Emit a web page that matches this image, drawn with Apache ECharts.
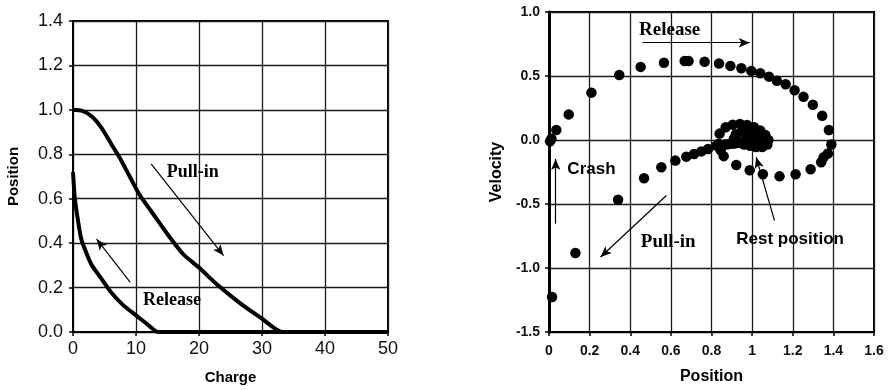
<!DOCTYPE html>
<html>
<head>
<meta charset="utf-8">
<script src="https://cdn.jsdelivr.net/npm/echarts@6/dist/echarts.min.js"></script>
<style>
html,body{margin:0;padding:0;background:#fff;}
#chart{width:892px;height:390px;}
</style>
</head>
<body>
<div id="chart"></div>
<script>
// ---------- Left panel: Position vs Charge ----------
var pullInCharge = [0, 1.5, 3, 4.5, 6, 7.5, 9, 10.5, 12, 13.5, 15, 17.5, 20, 23, 26.5, 30, 33.2, 50];
var pullInPos    = [1.0, 0.995, 0.97, 0.92, 0.85, 0.78, 0.70, 0.62, 0.56, 0.50, 0.44, 0.35, 0.29, 0.21, 0.13, 0.06, 0.0, 0.0];
var releaseCharge = [0, 0.3, 0.8, 1.3, 2.2, 3, 4.5, 6, 8, 10, 12, 13.5, 50];
var releasePos    = [0.72, 0.6, 0.5, 0.42, 0.35, 0.3, 0.24, 0.18, 0.12, 0.075, 0.03, 0.0, 0.0];
var leftXTicks = [0, 10, 20, 30, 40, 50];
var leftYTicks = [0.0, 0.2, 0.4, 0.6, 0.8, 1.0, 1.2, 1.4];
var leftLabels = [
  {name: 'Pull-in', x: 19.0, y: 0.717},
  {name: 'Release', x: 15.7, y: 0.142}
];
var leftArrows = [
  [[12.4, 0.757], [23.9, 0.344]],
  [[9.06, 0.224], [3.76, 0.418]]
];

// ---------- Right panel: Velocity vs Position ----------
var pullInTrajX = [1.0, 0.985, 0.97, 0.955, 0.94, 0.925, 0.91, 0.895, 0.88, 0.865, 0.85, 0.837, 0.824, 0.783, 0.75, 0.714, 0.676, 0.622, 0.553, 0.468, 0.34, 0.13, 0.015];
var pullInTrajV = [0.0, -0.005, -0.01, -0.015, -0.02, -0.024, -0.027, -0.03, -0.033, -0.036, -0.039, -0.041, -0.044, -0.07, -0.089, -0.109, -0.13, -0.161, -0.213, -0.299, -0.467, -0.883, -1.226];
var releaseTrajX = [0.005, 0.012, 0.036, 0.097, 0.209, 0.346, 0.451, 0.566, 0.668, 0.687, 0.766, 0.837, 0.893, 0.947, 0.996, 1.04, 1.083, 1.122, 1.165, 1.209, 1.253, 1.299, 1.345, 1.378, 1.39, 1.373, 1.352, 1.34, 1.288, 1.214, 1.135, 1.053, 0.988, 0.922, 0.86, 0.845, 0.835, 0.84, 0.87, 0.905, 0.94, 0.975, 1.01, 1.04, 1.065, 1.08, 1.075, 1.05, 1.02, 0.99, 0.96, 0.93, 0.91, 0.92, 0.95, 0.985, 1.02, 1.04, 1.04, 1.02, 0.99, 0.97, 0.975, 1.0, 1.015, 1.01, 1.0];
var releaseTrajV = [-0.01, 0.01, 0.078, 0.2, 0.37, 0.508, 0.571, 0.604, 0.617, 0.617, 0.612, 0.597, 0.579, 0.561, 0.54, 0.522, 0.495, 0.462, 0.436, 0.389, 0.337, 0.275, 0.189, 0.078, -0.035, -0.105, -0.135, -0.174, -0.228, -0.268, -0.284, -0.268, -0.237, -0.195, -0.126, -0.08, -0.03, 0.05, 0.1, 0.12, 0.125, 0.118, 0.1, 0.075, 0.04, 0.0, -0.035, -0.055, -0.055, -0.045, -0.035, -0.02, 0.01, 0.045, 0.065, 0.07, 0.055, 0.025, -0.005, -0.025, -0.025, -0.005, 0.02, 0.03, 0.015, -0.005, 0.0];
var rightXTicks = [0, 0.2, 0.4, 0.6, 0.8, 1, 1.2, 1.4, 1.6];
var rightYTicks = [-1.5, -1.0, -0.5, 0.0, 0.5, 1.0];
var rightSerifLabels = [
  {name: 'Release', x: 0.594, y: 0.857},
  {name: 'Pull-in', x: 0.587, y: -0.797}
];
var rightSansLabels = [
  {name: 'Crash', x: 0.209, y: -0.226},
  {name: 'Rest position', x: 1.187, y: -0.779}
];
var rightArrows = [
  [[0.46, 0.76], [0.988, 0.76]],
  [[0.578, -0.434], [0.254, -0.914]],
  [[1.11, -0.63], [1.02, -0.135]],
  [[0.033, -0.654], [0.033, -0.148]]
];

function zip(a, b) { return a.map(function (v, i) { return [v, b[i]]; }); }
function labelData(arr) { return arr.map(function (d) { return {name: d.name, value: [d.x, d.y]}; }); }
function arrowData(arr) { return arr.map(function (a) { return [{coord: a[0]}, {coord: a[1]}]; }); }

var SANS = "'Liberation Sans', Arial, Helvetica, sans-serif";
var SERIF = "'Liberation Serif', 'Times New Roman', serif";
var BLACK = '#000';

function axisCommon(min, max, interval, fmt, labelStyle) {
  return {
    type: 'value', min: min, max: max, interval: interval,
    axisLine: {show: true, onZero: false, lineStyle: {color: BLACK, width: 2}},
    axisTick: {show: true, inside: false, length: 4, lineStyle: {color: BLACK, width: 1.5}},
    splitLine: {show: true, lineStyle: {color: '#1a1a1a', width: 1.3}},
    axisLabel: Object.assign({color: '#111', fontFamily: SANS, formatter: fmt}, labelStyle)
  };
}

var chart = echarts.init(document.getElementById('chart'), null, {renderer: 'canvas'});

var xL = axisCommon(leftXTicks[0], leftXTicks[leftXTicks.length - 1], 10, function (v) { return String(v); }, {fontSize: 18, margin: 8});
xL.gridIndex = 0; xL.name = 'Charge'; xL.nameLocation = 'middle'; xL.nameGap = 38;
xL.nameTextStyle = {fontFamily: SANS, fontWeight: 'bold', fontSize: 15, color: BLACK};
var yL = axisCommon(leftYTicks[0], leftYTicks[leftYTicks.length - 1], 0.2, function (v) { return v.toFixed(1); }, {fontSize: 18, margin: 10});
yL.gridIndex = 0; yL.name = 'Position'; yL.nameLocation = 'middle'; yL.nameGap = 52;
yL.nameTextStyle = {fontFamily: SANS, fontWeight: 'bold', fontSize: 15, color: BLACK};

var xR = axisCommon(rightXTicks[0], rightXTicks[rightXTicks.length - 1], 0.2, function (v) { return String(+v.toFixed(1)); }, {fontSize: 14, fontWeight: 'bold', margin: 12});
xR.gridIndex = 1; xR.name = 'Position'; xR.nameLocation = 'middle'; xR.nameGap = 37;
xR.nameTextStyle = {fontFamily: SANS, fontWeight: 'bold', fontSize: 16, color: BLACK};
var yR = axisCommon(rightYTicks[0], rightYTicks[rightYTicks.length - 1], 0.5, function (v) { return v.toFixed(1); }, {fontSize: 14, fontWeight: 'bold', margin: 9});
yR.gridIndex = 1; yR.name = 'Velocity'; yR.nameLocation = 'middle'; yR.nameGap = 44;
yR.axisLine.lineStyle.width = 3;
yR.nameTextStyle = {fontFamily: SANS, fontWeight: 'bold', fontSize: 16, color: BLACK};

var arrowLine = {symbol: ['none', 'arrow'], symbolSize: [7, 11], silent: true, animation: false,
  label: {show: false}, lineStyle: {color: BLACK, width: 1.2, type: 'solid', opacity: 1}};

function textSeries(xi, data, font, size) {
  return {
    type: 'scatter', xAxisIndex: xi, yAxisIndex: xi, data: data, symbolSize: 1,
    itemStyle: {color: 'rgba(0,0,0,0)', opacity: 1}, silent: true, z: 10,
    label: {show: true, position: 'inside', formatter: '{b}', color: BLACK, opacity: 1,
      fontFamily: font, fontWeight: 'bold', fontSize: size}
  };
}

var option = {
  animation: false,
  backgroundColor: '#fff',
  grid: [
    {left: 73, top: 21, width: 315, height: 312, show: true, borderColor: BLACK, borderWidth: 2, backgroundColor: 'transparent'},
    {left: 549, top: 12, width: 325, height: 321, show: true, borderColor: BLACK, borderWidth: 2, backgroundColor: 'transparent'}
  ],
  xAxis: [xL, xR],
  yAxis: [yL, yR],
  series: [
    {type: 'line', name: 'Pull-in', xAxisIndex: 0, yAxisIndex: 0, data: zip(pullInCharge, pullInPos),
      showSymbol: false, smooth: 0.2, lineStyle: {color: BLACK, width: 4}, z: 5},
    {type: 'line', name: 'Release', xAxisIndex: 0, yAxisIndex: 0, data: zip(releaseCharge, releasePos),
      showSymbol: false, smooth: 0.2, lineStyle: {color: BLACK, width: 4}, z: 5},
    {type: 'line', xAxisIndex: 0, yAxisIndex: 0, data: [], markLine: Object.assign({data: arrowData(leftArrows)}, arrowLine)},
    textSeries(0, labelData(leftLabels), SERIF, 18),

    {type: 'scatter', name: 'Pull-in trajectory', xAxisIndex: 1, yAxisIndex: 1, data: zip(pullInTrajX, pullInTrajV),
      symbolSize: 10.5, itemStyle: {color: BLACK, opacity: 1}, z: 5},
    {type: 'scatter', name: 'Release trajectory', xAxisIndex: 1, yAxisIndex: 1, data: zip(releaseTrajX, releaseTrajV),
      symbolSize: 10.5, itemStyle: {color: BLACK, opacity: 1}, z: 5},
    {type: 'line', xAxisIndex: 1, yAxisIndex: 1, data: [], markLine: Object.assign({data: arrowData(rightArrows)}, arrowLine)},
    textSeries(1, labelData(rightSerifLabels), SERIF, 19),
    textSeries(1, labelData(rightSansLabels), SANS, 17)
  ]
};
chart.setOption(option);
</script>
</body>
</html>
